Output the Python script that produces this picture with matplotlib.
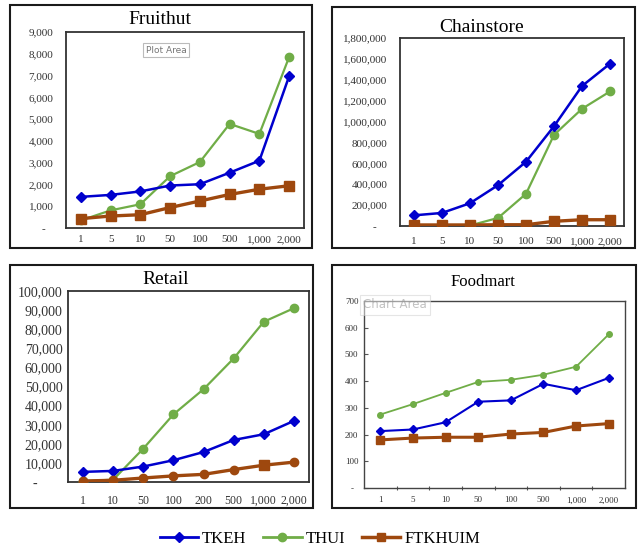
import matplotlib
matplotlib.use("Agg")
import matplotlib.pyplot as plt
from matplotlib.lines import Line2D
from matplotlib.patches import Rectangle
from matplotlib.ticker import FuncFormatter

# thresholds on the x axis
x_fruit = ["1", "5", "10", "50", "100", "500", "1,000", "2,000"]
x_chain = ["1", "5", "10", "50", "100", "500", "1,000", "2,000"]
x_retail = ["1", "10", "50", "100", "200", "500", "1,000", "2,000"]
x_food = ["1", "5", "10", "50", "100", "500", "1,000", "2,000"]

# Fruithut
fruit_tkeh = [1430, 1520, 1680, 1950, 2010, 2540, 3090, 6970]
fruit_thui = [350, 810, 1090, 2380, 3030, 4780, 4320, 7850]
fruit_ftk = [430, 550, 610, 940, 1240, 1540, 1780, 1940]

# Chainstore
chain_tkeh = [102000, 125000, 218000, 391000, 615000, 955000, 1340000, 1554000]
chain_thui = [2000, 2000, 5000, 77000, 308000, 872000, 1122000, 1288000]
chain_ftk = [10000, 10000, 10000, 12000, 12000, 45000, 60000, 60000]

# Retail
retail_tkeh = [5300, 5800, 8100, 11400, 15700, 22000, 25000, 32000]
retail_thui = [500, 1200, 17500, 35400, 48600, 64700, 83900, 91000]
retail_ftk = [500, 900, 2100, 3200, 4000, 6500, 8800, 10400]

# Foodmart
food_tkeh = [213, 219, 246, 323, 328, 390, 366, 412]
food_thui = [275, 314, 356, 397, 405, 424, 454, 575]
food_ftk = [180, 187, 190, 190, 202, 208, 232, 241]

series_names = ["TKEH", "THUI", "FTKHUIM"]

BLUE = "#0000CD"
GREEN = "#70AD47"
BROWN = "#9E480E"
SERIF = "Liberation Serif"

W, H = 638, 548
fig = plt.figure(figsize=(W / 100, H / 100), dpi=100)


def px_axes(l, t, r, b):
    return fig.add_axes([l / W, 1 - b / H, (r - l) / W, (b - t) / H])


def px_box(l, t, r, b, lw=1.5):
    fig.patches.append(Rectangle((l / W, 1 - b / H), (r - l) / W, (b - t) / H,
                                 transform=fig.transFigure, fill=False,
                                 edgecolor="#1a1a1a", linewidth=lw))


def money(zero_label):
    def fmt(v, pos):
        if v == 0:
            return zero_label
        return f"{v:,.0f}"
    return FuncFormatter(fmt)


def setup(ax, labels, ymax, ystep, zero_label, fs=8, yfs=None, ypad=9, xpad=5):
    ax.set_xlim(-0.5, len(labels) - 0.5)
    ax.set_ylim(0, ymax)
    ax.set_xticks(range(len(labels)))
    ax.set_xticklabels(labels)
    ax.set_yticks(range(0, ymax + 1, ystep))
    ax.yaxis.set_major_formatter(money(zero_label))
    ax.tick_params(axis="y", length=0, pad=ypad, labelsize=yfs or fs,
                   colors="#333333")
    ax.tick_params(axis="x", length=0, pad=xpad, labelsize=fs, colors="#333333")
    for lab in ax.get_xticklabels() + ax.get_yticklabels():
        lab.set_family(SERIF)
    for s in ax.spines.values():
        s.set_color("#333333")
        s.set_linewidth(1.3)


def draw(ax, tkeh, thui, ftk, ms=6, lw=1.8):
    x = range(len(tkeh))
    ax.plot(x, thui, color=GREEN, lw=lw - 0.2, marker="o", ms=ms, zorder=3)
    ax.plot(x, tkeh, color=BLUE, lw=lw, marker="D", ms=ms - 0.8, zorder=4)
    ax.plot(x, ftk, color=BROWN, lw=lw + 0.6, marker="s", ms=ms + 0.8, zorder=5)


# Fruithut
ax1 = px_axes(66, 32, 304, 228)
setup(ax1, x_fruit, 9000, 1000, "-   ", ypad=9, xpad=5)
draw(ax1, fruit_tkeh, fruit_thui, fruit_ftk)
fig.text(160 / W, 1 - 19 / H, "Fruithut", family=SERIF, fontsize=14,
         ha="center", va="center")
px_box(10, 5, 312, 248)
ax1.text(166 / W, 1 - 50 / H, "Plot Area", transform=fig.transFigure,
         fontsize=6.5, color="#777777", ha="center", va="center",
         bbox=dict(boxstyle="square,pad=0.3", fc="white", ec="#bbbbbb", lw=0.8))

# Chainstore
ax2 = px_axes(400, 38, 624, 226)
setup(ax2, x_chain, 1800000, 200000, "-    ", ypad=9, xpad=8)
draw(ax2, chain_tkeh, chain_thui, chain_ftk)
fig.text(482 / W, 1 - 27 / H, "Chainstore", family=SERIF, fontsize=14,
         ha="center", va="center")
px_box(332, 7, 635, 248)

# Retail
ax3 = px_axes(68, 291, 309, 482)
setup(ax3, x_retail, 100000, 10000, "-       ", fs=8.5, yfs=10, ypad=4, xpad=9)
x3 = range(len(retail_tkeh))
ax3.plot(x3, retail_thui, color=GREEN, lw=1.6, marker="o", ms=6, zorder=3)
ax3.plot(x3, retail_tkeh, color=BLUE, lw=1.8, marker="D", ms=5.2, zorder=4)
ax3.plot(x3, retail_ftk, color=BROWN, lw=2.4, marker="o", ms=6, zorder=5)
ax3.plot([6], [retail_ftk[6]], color=BROWN, marker="s", ms=7, ls="none", zorder=6)
fig.text(166 / W, 1 - 279 / H, "Retail", family=SERIF, fontsize=14,
         ha="center", va="center")
px_box(10, 265, 313, 508)

# Foodmart
ax4 = px_axes(364, 301, 625, 488)
setup(ax4, x_food, 700, 100, "-  ", fs=6.5, ypad=4, xpad=6)
ax4.set_xticks([i - 0.5 for i in range(1, len(x_food))], minor=True)
ax4.tick_params(axis="x", which="minor", length=3, direction="inout",
                color="#555555", width=0.8)
ax4.tick_params(axis="y", length=3, direction="in", color="#555555", width=0.8)
for s in ax4.spines.values():
    s.set_color("#444444")
    s.set_linewidth(1.0)
x4 = range(len(food_tkeh))
ax4.plot(x4, food_thui, color=GREEN, lw=1.3, marker="o", ms=4, zorder=3)
ax4.plot(x4, food_tkeh, color=BLUE, lw=1.5, marker="D", ms=4.5, zorder=4)
ax4.plot(x4, food_ftk, color=BROWN, lw=2.2, marker="s", ms=6, zorder=5)
fig.text(483 / W, 1 - 282 / H, "Foodmart", family=SERIF, fontsize=12,
         ha="center", va="center")
px_box(332, 265, 636, 508)
fig.text(395 / W, 1 - 305 / H, "Chart Area", fontsize=8.5, color="#999999",
         alpha=0.6, ha="center", va="center",
         bbox=dict(boxstyle="square,pad=0.3", fc="white", ec="#cccccc",
                   lw=0.8, alpha=0.5))

# shared legend
handles = [
    Line2D([], [], color=BLUE, lw=2, marker="D", ms=5),
    Line2D([], [], color=GREEN, lw=2, marker="o", ms=6),
    Line2D([], [], color=BROWN, lw=2.5, marker="s", ms=6),
]
fig.legend(handles, series_names, loc="center", ncol=3, frameon=False,
           bbox_to_anchor=(320 / W, 1 - 539 / H),
           prop={"family": SERIF, "size": 12},
           handlelength=2.3, handletextpad=0.25, columnspacing=1.0)

fig.savefig("out.png", dpi=100)
